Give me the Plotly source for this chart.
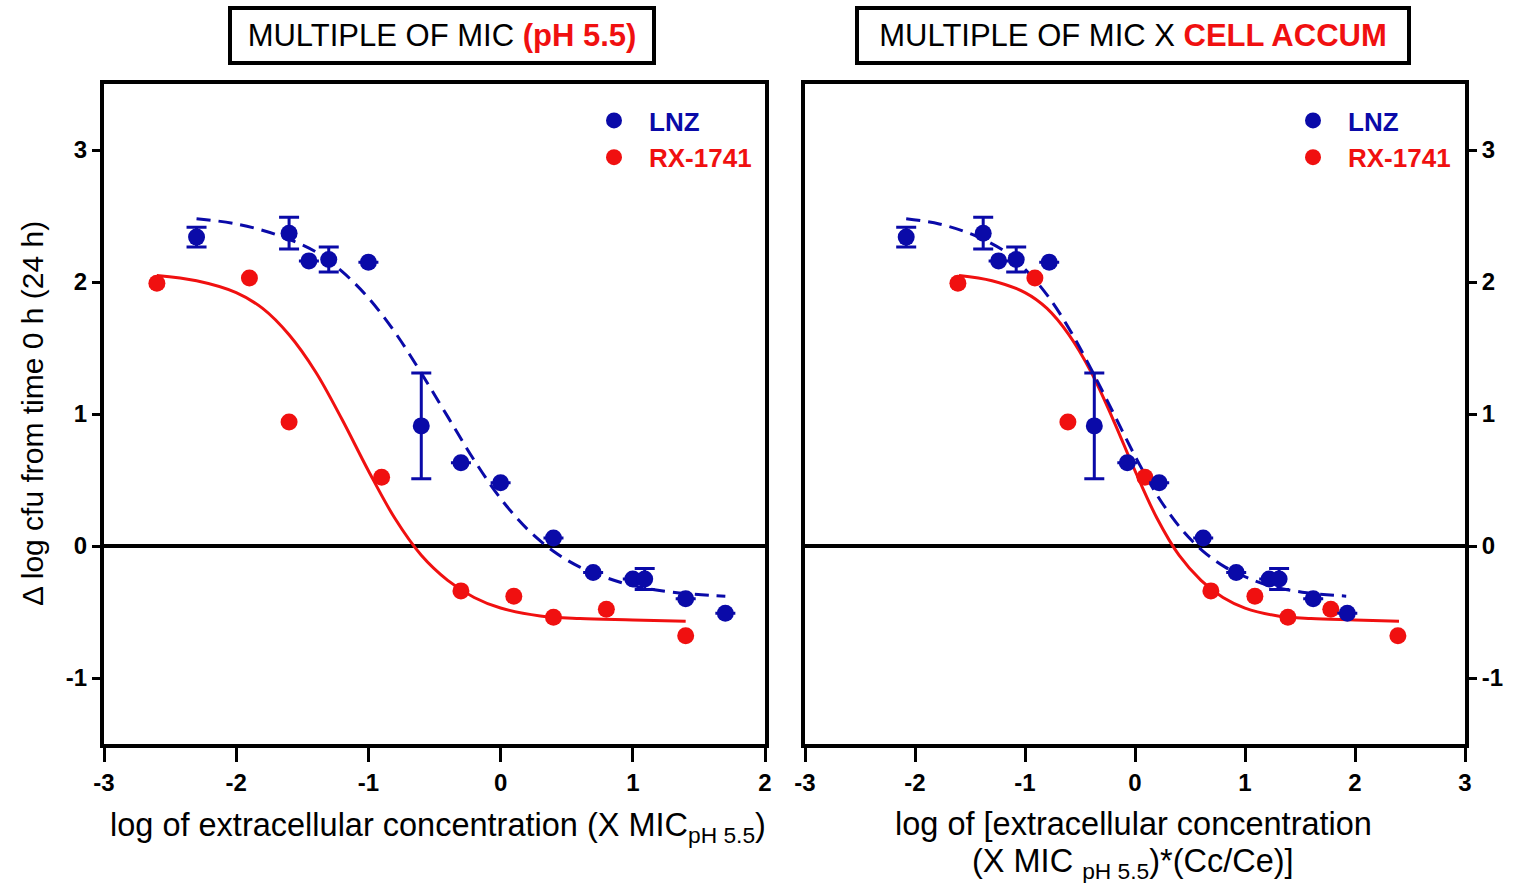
import plotly.graph_objects as go

# ---------------- data ----------------
# Left panel: log of extracellular concentration (X MIC pH 5.5)
lnz_x_left = [-2.30, -1.60, -1.45, -1.30, -1.00, -0.60, -0.30, 0.00, 0.40, 0.70, 1.00, 1.09, 1.40, 1.70]
lnz_y = [2.34, 2.37, 2.16, 2.17, 2.15, 0.91, 0.63, 0.48, 0.06, -0.20, -0.25, -0.25, -0.40, -0.51]
lnz_err = [0.075, 0.12, 0.0, 0.095, 0.0, 0.40, 0.0, 0.0, 0.0, 0.0, 0.0, 0.08, 0.0, 0.0]

rx_x_left = [-2.60, -1.90, -1.60, -0.90, -0.30, 0.10, 0.40, 0.80, 1.40]
rx_y = [1.99, 2.03, 0.94, 0.52, -0.34, -0.38, -0.54, -0.48, -0.68]

# Right panel: log of [extracellular conc. (X MIC pH 5.5) * (Cc/Ce)]
lnz_x_right = [-2.08, -1.38, -1.24, -1.08, -0.78, -0.37, -0.07, 0.22, 0.62, 0.92, 1.22, 1.31, 1.62, 1.93]
rx_x_right = [-1.61, -0.91, -0.61, 0.09, 0.69, 1.09, 1.39, 1.78, 2.39]

# Fitted curves
lnz_fit_x_left = [-2.3, -2.0, -1.7, -1.4, -1.2, -1.0, -0.8, -0.6, -0.4, -0.2, 0.0, 0.2, 0.4, 0.6, 0.8, 1.0, 1.3, 1.7]
lnz_fit_x_right = [-2.08, -1.78, -1.48, -1.18, -0.98, -0.78, -0.58, -0.38, -0.18, 0.02, 0.22, 0.42, 0.62, 0.82, 1.02, 1.22, 1.52, 1.92]
lnz_fit_y = [2.48, 2.44, 2.36, 2.23, 2.08, 1.88, 1.62, 1.31, 0.98, 0.65, 0.36, 0.13, -0.04, -0.16, -0.24, -0.30, -0.35, -0.38]

rx_fit_x_left = [-2.6, -2.3, -2.0, -1.8, -1.6, -1.4, -1.2, -1.0, -0.8, -0.6, -0.4, -0.2, 0.0, 0.3, 0.6, 1.0, 1.4]
rx_fit_x_right = [-1.6, -1.3, -1.0, -0.8, -0.6, -0.4, -0.2, 0.0, 0.2, 0.4, 0.6, 0.8, 1.0, 1.3, 1.6, 2.0, 2.4]
rx_fit_y = [2.05, 2.01, 1.92, 1.80, 1.60, 1.32, 0.96, 0.57, 0.21, -0.07, -0.26, -0.39, -0.47, -0.53, -0.55, -0.56, -0.57]

y_ticks = [-1, 0, 1, 2, 3]
y_tick_text = ["-1", "0", "1", "2", "3"]
x_ticks_left = [-3, -2, -1, 0, 1, 2]
x_tick_text_left = ["-3", "-2", "-1", "0", "1", "2"]
x_ticks_right = [-3, -2, -1, 0, 1, 2, 3]
x_tick_text_right = ["-3", "-2", "-1", "0", "1", "2", "3"]

BLUE = "#0a0aa8"
RED = "#f01010"
FONT = "Liberation Sans, Arial, sans-serif"
W, H = 1513, 883

fig = go.Figure()

def add_panel(xa, ya, lnz_x, rx_x, lnz_fx, rx_fx, legend):
    # fitted curves
    fig.add_trace(go.Scatter(x=rx_fx, y=rx_fit_y, mode="lines", line=dict(color=RED, width=3, shape="spline"),
                             xaxis=xa, yaxis=ya, showlegend=False, hoverinfo="skip"))
    fig.add_trace(go.Scatter(x=lnz_fx, y=lnz_fit_y, mode="lines",
                             line=dict(color=BLUE, width=3, dash="14px,8px", shape="spline"),
                             xaxis=xa, yaxis=ya, showlegend=False, hoverinfo="skip"))
    # points
    fig.add_trace(go.Scatter(x=rx_x, y=rx_y, mode="markers", marker=dict(color=RED, size=17),
                             xaxis=xa, yaxis=ya, showlegend=False))
    fig.add_trace(go.Scatter(x=lnz_x, y=lnz_y, mode="markers", marker=dict(color=BLUE, size=17),
                             error_y=dict(type="data", array=lnz_err, visible=True, color=BLUE,
                                          thickness=3, width=10),
                             xaxis=xa, yaxis=ya, showlegend=False))
    # legend entries
    fig.add_trace(go.Scatter(x=[None], y=[None], mode="markers", marker=dict(color=BLUE, size=17),
                             name=f"<span style='color:{BLUE}'><b>LNZ</b></span>",
                             xaxis=xa, yaxis=ya, legend=legend))
    fig.add_trace(go.Scatter(x=[None], y=[None], mode="markers", marker=dict(color=RED, size=17),
                             name=f"<span style='color:{RED}'><b>RX-1741</b></span>",
                             xaxis=xa, yaxis=ya, legend=legend))

add_panel("x", "y", lnz_x_left, rx_x_left, lnz_fit_x_left, rx_fit_x_left, "legend")
add_panel("x2", "y2", lnz_x_right, rx_x_right, lnz_fit_x_right, rx_fit_x_right, "legend2")

def px_x(p):
    return p / W

def px_y(p):
    return 1 - p / H

axis_common = dict(showline=True, linewidth=4, linecolor="black", mirror=True, showgrid=False,
                   ticks="outside", tickwidth=3, tickcolor="black", automargin=False,
                   tickfont=dict(family=FONT, size=24, color="black", weight="bold"))

fig.update_layout(
    width=W, height=H,
    margin=dict(l=0, r=0, t=0, b=0),
    paper_bgcolor="white", plot_bgcolor="white",
    font=dict(family=FONT, color="black"),
    xaxis=dict(domain=[px_x(104), px_x(765)], range=[-3, 2], tickvals=x_ticks_left,
               ticktext=x_tick_text_left, ticklen=14, anchor="y", zeroline=False, **axis_common),
    yaxis=dict(domain=[px_y(744), px_y(84)], range=[-1.5, 3.5], tickvals=y_ticks, ticktext=y_tick_text,
               ticklen=8, anchor="x", zeroline=True, zerolinewidth=4, zerolinecolor="black", **axis_common),
    xaxis2=dict(domain=[px_x(805), px_x(1465)], range=[-3, 3], tickvals=x_ticks_right,
                ticktext=x_tick_text_right, ticklen=14, anchor="y2", zeroline=False, **axis_common),
    yaxis2=dict(domain=[px_y(744), px_y(84)], range=[-1.5, 3.5], tickvals=y_ticks, ticktext=y_tick_text,
                ticklen=8, anchor="x2", side="right", zeroline=True, zerolinewidth=4, zerolinecolor="black",
                **axis_common),
    legend=dict(x=px_x(579), y=px_y(97), xanchor="left", yanchor="top", bgcolor="rgba(0,0,0,0)",
                font=dict(family=FONT, size=26), itemwidth=60, tracegroupgap=0),
    legend2=dict(x=px_x(1278), y=px_y(97), xanchor="left", yanchor="top", bgcolor="rgba(0,0,0,0)",
                 font=dict(family=FONT, size=26), itemwidth=60, tracegroupgap=0),
    showlegend=True,
)

annotations = [
    dict(text=f"MULTIPLE OF MIC <span style='color:{RED}'><b>(pH 5.5)</b></span>",
         x=px_x(442), y=px_y(35), xref="paper", yref="paper", showarrow=False,
         font=dict(family=FONT, size=31, color="black"), bordercolor="black", borderwidth=4,
         borderpad=2, bgcolor="white", width=416, height=47, xanchor="center", yanchor="middle"),
    dict(text=f"MULTIPLE OF MIC X <span style='color:{RED}'><b>CELL ACCUM</b></span>",
         x=px_x(1133), y=px_y(35), xref="paper", yref="paper", showarrow=False,
         font=dict(family=FONT, size=31, color="black"), bordercolor="black", borderwidth=4,
         borderpad=2, bgcolor="white", width=544, height=47, xanchor="center", yanchor="middle"),
    dict(text="log of extracellular concentration (X MIC<sub>pH 5.5</sub>)",
         x=px_x(438), y=px_y(827), xref="paper", yref="paper", showarrow=False,
         font=dict(family=FONT, size=32.5, color="black"), xanchor="center", yanchor="middle"),
    dict(text="log of [extracellular concentration",
         x=px_x(1133), y=px_y(824), xref="paper", yref="paper", showarrow=False,
         font=dict(family=FONT, size=32.5, color="black"), xanchor="center", yanchor="middle"),
    dict(text="(X MIC <sub>pH 5.5</sub>)*(Cc/Ce)]",
         x=px_x(1133), y=px_y(863), xref="paper", yref="paper", showarrow=False,
         font=dict(family=FONT, size=32.5, color="black"), xanchor="center", yanchor="middle"),
    dict(text="Δ log cfu from time 0 h (24 h)", textangle=-90,
         x=px_x(33), y=px_y(414), xref="paper", yref="paper", showarrow=False,
         font=dict(family=FONT, size=30, color="black"), xanchor="center", yanchor="middle"),
]
fig.update_layout(annotations=annotations)

fig.write_html("out.html", config={"displayModeBar": False},
               post_script="document.body.style.margin='0';document.body.style.overflow='hidden';")
